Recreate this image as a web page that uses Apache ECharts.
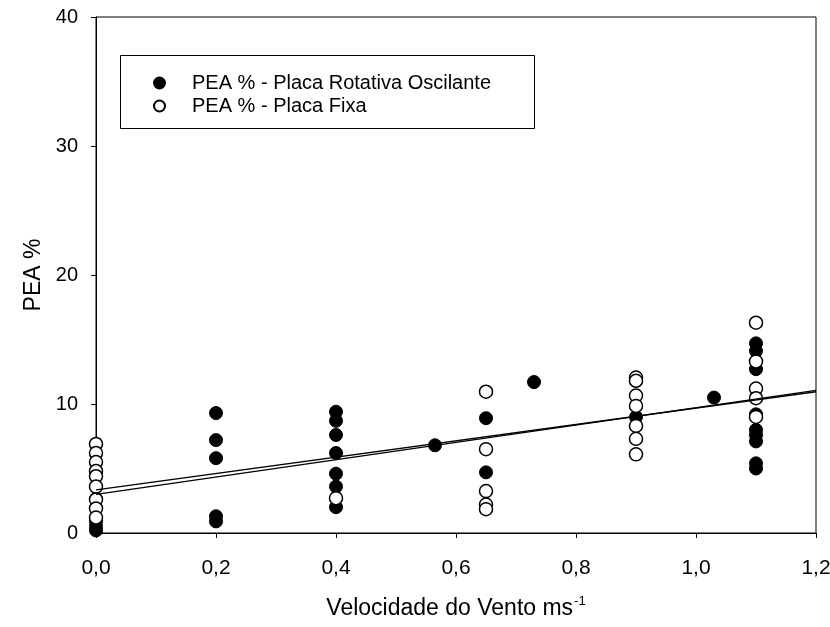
<!DOCTYPE html>
<html>
<head>
<meta charset="utf-8">
<script src="https://cdn.jsdelivr.net/npm/echarts@6/dist/echarts.min.js"></script>
<style>
  html, body { margin: 0; padding: 0; background: #fff; }
  #chart { width: 830px; height: 627px; }
</style>
</head>
<body>
<div id="chart"></div>
<script>
// dados
var rotativa = [
  [0, 0.2], [0, 0.5], [0, 0.9], [0, 3.6], [0, 4.8],
  [0.2, 9.3], [0.2, 7.2], [0.2, 5.8], [0.2, 1.3], [0.2, 0.9],
  [0.4, 9.4], [0.4, 8.7], [0.4, 7.6], [0.4, 6.2], [0.4, 4.6], [0.4, 3.6], [0.4, 2.0],
  [0.565, 6.8],
  [0.65, 8.9], [0.65, 4.7],
  [0.73, 11.7],
  [0.9, 9.0],
  [1.03, 10.5],
  [1.1, 14.7], [1.1, 14.1], [1.1, 12.7], [1.1, 9.2], [1.1, 8.0], [1.1, 7.6], [1.1, 7.1], [1.1, 5.4], [1.1, 5.0]
];
var fixa = [
  [0, 6.9], [0, 6.2], [0, 5.5], [0, 4.8], [0, 4.4], [0, 3.6], [0, 2.6], [0, 1.9], [0, 1.2],
  [0.4, 2.7],
  [0.65, 10.95], [0.65, 6.5], [0.65, 3.25], [0.65, 2.2], [0.65, 1.85],
  [0.9, 12.05], [0.9, 11.8], [0.9, 10.65], [0.9, 9.85], [0.9, 8.3], [0.9, 7.3], [0.9, 6.1],
  [1.1, 16.3], [1.1, 13.3], [1.1, 11.2], [1.1, 10.45], [1.1, 9.0]
];
// retas de regressao (extremos lidos)
var retaRotativa = [[0, 3.35], [1.2, 10.95]];
var retaFixa = [[0, 3.0], [1.2, 11.05]];

var fonte = "Liberation Sans, Arial, sans-serif";
var myChart = echarts.init(document.getElementById("chart"));

var option = {
  backgroundColor: "#fff",
  animation: false,
  grid: {
    left: 96,
    right: 14,
    top: 17,
    bottom: 94,
    outerBoundsMode: "none",
    containLabel: false,
    show: true,
    borderColor: "#000",
    borderWidth: 1,
  },
  legend: {
    orient: "vertical",
    left: 148,
    top: 68,
    itemGap: 3,
    itemWidth: 11,
    itemHeight: 11,
    icon: "circle",
    textStyle: { fontFamily: fonte, fontSize: 20, color: "#000", padding: [0, 0, 0, 22] },
    data: ["PEA % - Placa Rotativa Oscilante", "PEA % - Placa Fixa"],
  },
  graphic: [
    {
      type: "rect",
      left: 120,
      top: 55,
      shape: { width: 414, height: 73 },
      style: { fill: "#fff", stroke: "#000", lineWidth: 1 },
      z: -1,
    },
  ],
  xAxis: {
    type: "value",
    min: 0,
    max: 1.2,
    interval: 0.2,
    name: "{a|Velocidade do Vento ms}{s|-1}",
    nameLocation: "middle",
    nameGap: 62,
    nameTextStyle: {
      rich: {
        a: { fontFamily: fonte, fontSize: 23, color: "#000" },
        s: { fontFamily: fonte, fontSize: 13, color: "#000", padding: [0, 0, 14, 1] },
      },
    },
    axisLine: { show: true, lineStyle: { color: "#000", width: 1 } },
    axisTick: { show: true, length: 5, lineStyle: { color: "#000" } },
    axisLabel: {
      margin: 25,
      fontFamily: fonte,
      fontSize: 21,
      color: "#000",
      showMaxLabel: true,
      formatter: function (v) {
        return v.toFixed(1).replace(".", ",");
      },
    },
    splitLine: { show: false },
  },
  yAxis: {
    type: "value",
    min: 0,
    max: 40,
    interval: 10,
    name: "PEA %",
    nameLocation: "middle",
    nameGap: 51,
    nameTextStyle: { fontFamily: fonte, fontSize: 23, color: "#000" },
    axisLine: { show: true, lineStyle: { color: "#000", width: 1 } },
    axisTick: { show: true, length: 5, lineStyle: { color: "#000" } },
    axisLabel: { margin: 18, fontFamily: fonte, fontSize: 20, color: "#000" },
    splitLine: { show: false },
  },
  series: [
    {
      name: "PEA % - Placa Rotativa Oscilante",
      type: "scatter",
      symbol: "circle",
      symbolSize: 13,
      itemStyle: { color: "#000", borderColor: "#000", borderWidth: 1, opacity: 1 },
      data: rotativa,
      z: 2,
    },
    {
      name: "PEA % - Placa Fixa",
      type: "scatter",
      symbol: "circle",
      symbolSize: 13,
      itemStyle: { color: "#fff", borderColor: "#000", borderWidth: 1.5, opacity: 1 },
      data: fixa,
      z: 3,
    },
    {
      name: "reta1",
      type: "line",
      data: retaRotativa,
      symbol: "none",
      lineStyle: { color: "#000", width: 1.3 },
      z: 4,
    },
    {
      name: "reta2",
      type: "line",
      data: retaFixa,
      symbol: "none",
      lineStyle: { color: "#000", width: 1.3 },
      z: 4,
    },
  ],
};
option && myChart.setOption(option);
</script>
</body>
</html>
